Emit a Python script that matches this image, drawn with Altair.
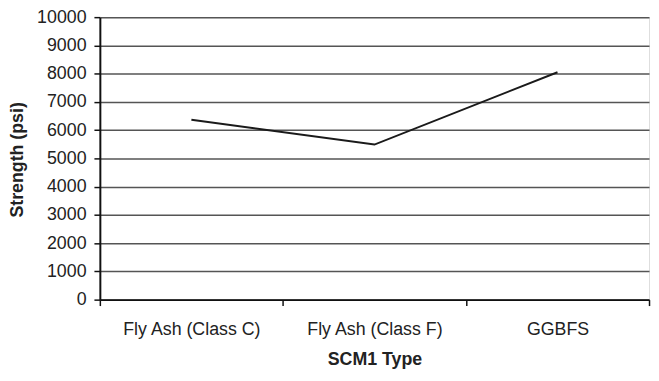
import altair as alt
import pandas as pd

categories = ["Fly Ash (Class C)", "Fly Ash (Class F)", "GGBFS"]
strength = [6370, 5490, 8050]
y_ticks = list(range(0, 10001, 1000))

df = pd.DataFrame({"cat": categories, "strength": strength})

FONT = "Liberation Sans"
FS = 18

chart = alt.Chart(df).mark_line(color="#1a1a1a", strokeWidth=2).encode(
    x=alt.X(
        "cat:N",
        sort=categories,
        scale=alt.Scale(type="band", paddingInner=0, paddingOuter=0),
        axis=alt.Axis(
            title="SCM1 Type",
            tickBand="extent",
            grid=False,
            labelAngle=0,
            labelFont=FONT,
            labelFontSize=FS,
            labelColor="#222",
            labelPadding=15,
            tickSize=6,
            tickColor="#111",
            tickWidth=1.5,
            domainColor="#111",
            domainWidth=2,
            titleFont=FONT,
            titleFontSize=FS,
            titleFontWeight="bold",
            titleColor="#222",
            titleX=278,
            titleY=61,
            titleBaseline="middle",
            titleAlign="center",
        ),
    ),
    y=alt.Y(
        "strength:Q",
        scale=alt.Scale(domain=[0, 10000], nice=False),
        axis=alt.Axis(
            title="Strength (psi)",
            values=y_ticks,
            format="d",
            grid=True,
            gridColor="#555",
            gridWidth=1.5,
            labelFont=FONT,
            labelFontSize=FS,
            labelColor="#222",
            labelPadding=8,
            tickSize=6,
            tickColor="#111",
            tickWidth=1.5,
            domainColor="#111",
            domainWidth=2,
            titleFont=FONT,
            titleFontSize=FS,
            titleFontWeight="bold",
            titleColor="#222",
            titleAngle=-90,
            titleX=-83.5,
            titleY=144,
            titleBaseline="middle",
            titleAlign="center",
        ),
    ),
).properties(
    width=556,
    height=286,
    autosize=alt.AutoSizeParams(type="none"),
    padding={"left": 93, "top": 7, "right": 2, "bottom": 72},
).configure_view(
    stroke="#555", strokeWidth=1.5
).configure(background="white")

chart.save("out.html", embed_options={"renderer": "svg", "actions": False})
